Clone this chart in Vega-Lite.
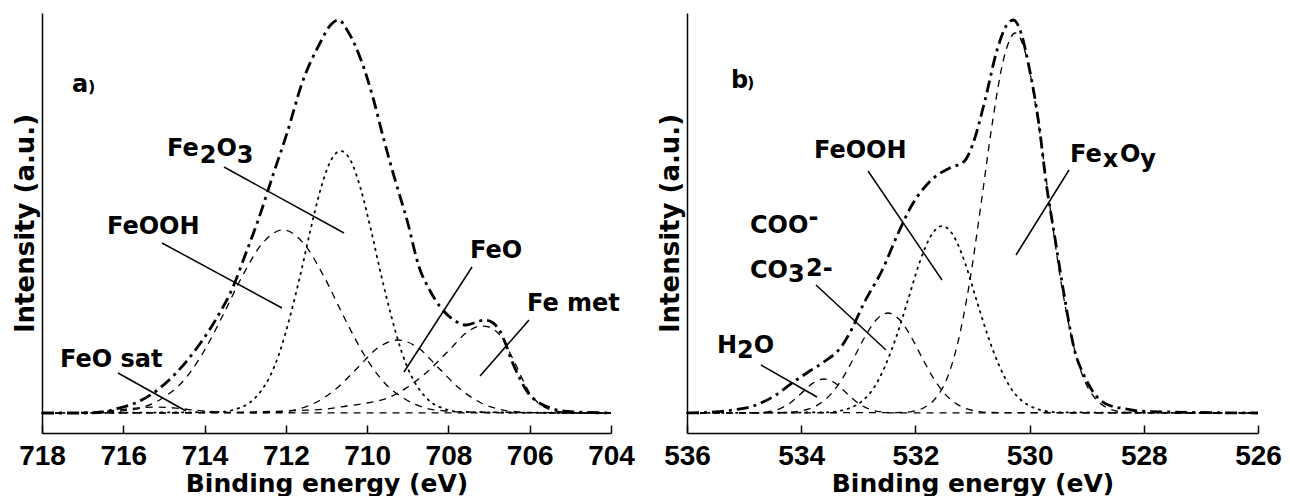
{
  "$schema": "https://vega.github.io/schema/vega-lite/v6.json",
  "autosize": {"type": "pad"},
  "padding": {"left": 12, "top": 13, "right": 0, "bottom": 0},
  "background": "white",
  "spacing": 76,
  "bounds": "flush",
  "config": {
    "view": {"stroke": null},
    "axis": {"grid": false, "domainColor": "black", "domainWidth": 1.5, "tickColor": "black", "tickWidth": 1.5, "labelColor": "black", "titleColor": "black"},
    "axisX": {"labelFont": "Liberation Sans", "labelFontWeight": "bold", "labelFontSize": 28, "tickSize": -8, "labelPadding": 17, "labelFlush": false, "titleFont": "DejaVu Sans", "titleFontWeight": "bold", "titleFontSize": 25, "titlePadding": 1},
    "axisY": {"labels": false, "ticks": false, "titleFont": "DejaVu Sans", "titleFontWeight": "bold", "titleFontSize": 26, "titlePadding": 4}
  },
  "datasets": {
    "a_curves": [
      {"s":"env","E":718,"I":0},{"s":"env","E":717,"I":0},{"s":"env","E":716.5,"I":1},{"s":"env","E":716.2,"I":4},{"s":"env","E":715.7,"I":10},{"s":"env","E":715.26,"I":20},{"s":"env","E":714.7,"I":40},{"s":"env","E":714.1,"I":70},{"s":"env","E":713.7,"I":95},{"s":"env","E":713.29,"I":127},{"s":"env","E":713.0,"I":158},{"s":"env","E":712.68,"I":193},{"s":"env","E":712.3,"I":240},{"s":"env","E":711.97,"I":280},{"s":"env","E":711.6,"I":330},{"s":"env","E":711.16,"I":370},{"s":"env","E":710.9,"I":388},{"s":"env","E":710.71,"I":393},{"s":"env","E":710.45,"I":380},{"s":"env","E":710.15,"I":353},{"s":"env","E":709.84,"I":313},{"s":"env","E":709.6,"I":275},{"s":"env","E":709.34,"I":237},{"s":"env","E":709.0,"I":190},{"s":"env","E":708.73,"I":147},{"s":"env","E":708.45,"I":122},{"s":"env","E":708.22,"I":107},{"s":"env","E":707.9,"I":94},{"s":"env","E":707.56,"I":88},{"s":"env","E":707.3,"I":91},{"s":"env","E":707.11,"I":93},{"s":"env","E":706.9,"I":90},{"s":"env","E":706.75,"I":83},{"s":"env","E":706.6,"I":70},{"s":"env","E":706.45,"I":53},{"s":"env","E":706.25,"I":35},{"s":"env","E":706.04,"I":20},{"s":"env","E":705.8,"I":11},{"s":"env","E":705.49,"I":5},{"s":"env","E":705.2,"I":2},{"s":"env","E":704.8,"I":1},{"s":"env","E":704,"I":0},
      {"s":"FeOOH","E":718,"I":0},{"s":"FeOOH","E":716.57,"I":1},{"s":"FeOOH","E":716.07,"I":2},{"s":"FeOOH","E":715.57,"I":5},{"s":"FeOOH","E":715.07,"I":14},{"s":"FeOOH","E":714.57,"I":30},{"s":"FeOOH","E":714.07,"I":58},{"s":"FeOOH","E":713.57,"I":96},{"s":"FeOOH","E":713.07,"I":137},{"s":"FeOOH","E":712.57,"I":170},{"s":"FeOOH","E":712.07,"I":183},{"s":"FeOOH","E":711.57,"I":170},{"s":"FeOOH","E":711.07,"I":137},{"s":"FeOOH","E":710.57,"I":96},{"s":"FeOOH","E":710.07,"I":58},{"s":"FeOOH","E":709.57,"I":30},{"s":"FeOOH","E":709.07,"I":14},{"s":"FeOOH","E":708.57,"I":5},{"s":"FeOOH","E":708.07,"I":2},{"s":"FeOOH","E":707.57,"I":1},{"s":"FeOOH","E":704,"I":0},
      {"s":"Fe2O3","E":718,"I":0},{"s":"Fe2O3","E":713.65,"I":1},{"s":"Fe2O3","E":713.15,"I":5},{"s":"Fe2O3","E":712.9,"I":10},{"s":"Fe2O3","E":712.65,"I":20},{"s":"Fe2O3","E":712.4,"I":36},{"s":"Fe2O3","E":712.15,"I":61},{"s":"Fe2O3","E":711.9,"I":96},{"s":"Fe2O3","E":711.65,"I":137},{"s":"Fe2O3","E":711.4,"I":182},{"s":"Fe2O3","E":711.15,"I":223},{"s":"Fe2O3","E":710.9,"I":252},{"s":"Fe2O3","E":710.65,"I":262},{"s":"Fe2O3","E":710.4,"I":252},{"s":"Fe2O3","E":710.15,"I":223},{"s":"Fe2O3","E":709.9,"I":182},{"s":"Fe2O3","E":709.65,"I":137},{"s":"Fe2O3","E":709.4,"I":96},{"s":"Fe2O3","E":709.15,"I":61},{"s":"Fe2O3","E":708.9,"I":36},{"s":"Fe2O3","E":708.65,"I":20},{"s":"Fe2O3","E":708.4,"I":10},{"s":"Fe2O3","E":708.15,"I":5},{"s":"Fe2O3","E":707.65,"I":1},{"s":"Fe2O3","E":704,"I":0},
      {"s":"FeO","E":718,"I":0},{"s":"FeO","E":712.74,"I":0.2},{"s":"FeO","E":712.24,"I":1},{"s":"FeO","E":711.74,"I":3.6},{"s":"FeO","E":711.24,"I":11},{"s":"FeO","E":710.74,"I":25},{"s":"FeO","E":710.24,"I":45},{"s":"FeO","E":709.74,"I":65},{"s":"FeO","E":709.24,"I":73},{"s":"FeO","E":708.74,"I":65},{"s":"FeO","E":708.24,"I":45},{"s":"FeO","E":707.74,"I":25},{"s":"FeO","E":707.24,"I":11},{"s":"FeO","E":706.74,"I":3.6},{"s":"FeO","E":706.24,"I":1},{"s":"FeO","E":705.74,"I":0.2},{"s":"FeO","E":704,"I":0},
      {"s":"Femet","E":718,"I":0},{"s":"Femet","E":714,"I":0.3},{"s":"Femet","E":713,"I":1},{"s":"Femet","E":712,"I":2},{"s":"Femet","E":711,"I":4},{"s":"Femet","E":710.5,"I":7},{"s":"Femet","E":710,"I":10},{"s":"Femet","E":709.5,"I":15},{"s":"Femet","E":709,"I":26},{"s":"Femet","E":708.5,"I":42},{"s":"Femet","E":708,"I":62},{"s":"Femet","E":707.5,"I":82},{"s":"Femet","E":707.2,"I":87},{"s":"Femet","E":707,"I":86},{"s":"Femet","E":706.7,"I":76},{"s":"Femet","E":706.4,"I":53},{"s":"Femet","E":706.0,"I":20},{"s":"Femet","E":705.6,"I":5},{"s":"Femet","E":705.2,"I":1},{"s":"Femet","E":704.8,"I":0},{"s":"Femet","E":704,"I":0},
      {"s":"FeOsat","E":718,"I":0},{"s":"FeOsat","E":717.2,"I":0.3},{"s":"FeOsat","E":716.7,"I":1.1},{"s":"FeOsat","E":716.2,"I":2.7},{"s":"FeOsat","E":715.7,"I":4.9},{"s":"FeOsat","E":715.2,"I":6},{"s":"FeOsat","E":714.7,"I":4.9},{"s":"FeOsat","E":714.2,"I":2.7},{"s":"FeOsat","E":713.7,"I":1.1},{"s":"FeOsat","E":713.2,"I":0.3},{"s":"FeOsat","E":704,"I":0}
    ],
    "a_leaders": [
      {"E":713.522,"I":246,"E2":710.569,"I2":180},
      {"E":715.047,"I":170,"E2":712.094,"I2":105},
      {"E":707.419,"I":146,"E2":709.093,"I2":41},
      {"E":706.017,"I":93,"E2":707.222,"I2":37},
      {"E":716.13,"I":40,"E2":714.457,"I2":2}
    ],
    "a_text": [
      {"k":"m","t":"a","E":717.262,"I":321},
      {"k":"p","t":")","E":716.868,"I":321},
      {"k":"m","t":"Fe","E":714.924,"I":257},
      {"k":"m","t":"2","E":714.12,"I":250},
      {"k":"m","t":"O","E":713.709,"I":257},
      {"k":"m","t":"3","E":713.207,"I":250},
      {"k":"m","t":"FeOOH","E":716.401,"I":179},
      {"k":"m","t":"FeO","E":707.469,"I":155},
      {"k":"m","t":"Fe met","E":706.066,"I":102},
      {"k":"m","t":"FeO sat","E":717.557,"I":46}
    ],
    "b_curves": [
      {"s":"env","E":536,"I":0},{"s":"env","E":535.5,"I":1},{"s":"env","E":535.2,"I":3},{"s":"env","E":534.84,"I":7},{"s":"env","E":534.5,"I":16},{"s":"env","E":534.16,"I":30},{"s":"env","E":533.85,"I":42},{"s":"env","E":533.58,"I":52},{"s":"env","E":533.3,"I":66},{"s":"env","E":533.15,"I":80},{"s":"env","E":532.9,"I":110},{"s":"env","E":532.58,"I":143},{"s":"env","E":532.3,"I":180},{"s":"env","E":532.07,"I":207},{"s":"env","E":531.85,"I":225},{"s":"env","E":531.68,"I":235},{"s":"env","E":531.4,"I":245},{"s":"env","E":531.14,"I":252},{"s":"env","E":531.0,"I":268},{"s":"env","E":530.78,"I":313},{"s":"env","E":530.57,"I":363},{"s":"env","E":530.4,"I":388},{"s":"env","E":530.28,"I":393},{"s":"env","E":530.15,"I":380},{"s":"env","E":530.01,"I":346},{"s":"env","E":529.84,"I":290},{"s":"env","E":529.7,"I":226},{"s":"env","E":529.57,"I":180},{"s":"env","E":529.41,"I":123},{"s":"env","E":529.2,"I":60},{"s":"env","E":529.05,"I":38},{"s":"env","E":528.91,"I":23},{"s":"env","E":528.62,"I":8},{"s":"env","E":528.3,"I":4},{"s":"env","E":528.12,"I":2},{"s":"env","E":527.5,"I":1},{"s":"env","E":526,"I":0},
      {"s":"FexOy","E":536,"I":0},{"s":"FexOy","E":532.25,"I":0.5},{"s":"FexOy","E":532.05,"I":1.7},{"s":"FexOy","E":531.85,"I":5.3},{"s":"FexOy","E":531.65,"I":14.5},{"s":"FexOy","E":531.45,"I":34},{"s":"FexOy","E":531.25,"I":72},{"s":"FexOy","E":531.05,"I":131},{"s":"FexOy","E":530.85,"I":209},{"s":"FexOy","E":530.65,"I":291},{"s":"FexOy","E":530.45,"I":355},{"s":"FexOy","E":530.25,"I":380},{"s":"FexOy","E":530.05,"I":355},{"s":"FexOy","E":529.85,"I":291},{"s":"FexOy","E":529.65,"I":209},{"s":"FexOy","E":529.45,"I":131},{"s":"FexOy","E":529.25,"I":72},{"s":"FexOy","E":529.05,"I":34},{"s":"FexOy","E":528.85,"I":14.5},{"s":"FexOy","E":528.65,"I":5.3},{"s":"FexOy","E":528.45,"I":1.7},{"s":"FexOy","E":528.25,"I":0.5},{"s":"FexOy","E":526,"I":0},
      {"s":"FeOOH","E":536,"I":0},{"s":"FeOOH","E":533.53,"I":0.7},{"s":"FeOOH","E":533.33,"I":2.1},{"s":"FeOOH","E":533.13,"I":5.3},{"s":"FeOOH","E":532.93,"I":12},{"s":"FeOOH","E":532.73,"I":25},{"s":"FeOOH","E":532.53,"I":47},{"s":"FeOOH","E":532.33,"I":77},{"s":"FeOOH","E":532.13,"I":113},{"s":"FeOOH","E":531.93,"I":150},{"s":"FeOOH","E":531.73,"I":177},{"s":"FeOOH","E":531.53,"I":187},{"s":"FeOOH","E":531.33,"I":177},{"s":"FeOOH","E":531.13,"I":150},{"s":"FeOOH","E":530.93,"I":113},{"s":"FeOOH","E":530.73,"I":77},{"s":"FeOOH","E":530.53,"I":47},{"s":"FeOOH","E":530.33,"I":25},{"s":"FeOOH","E":530.13,"I":12},{"s":"FeOOH","E":529.93,"I":5.3},{"s":"FeOOH","E":529.73,"I":2.1},{"s":"FeOOH","E":529.53,"I":0.7},{"s":"FeOOH","E":526,"I":0},
      {"s":"COO","E":536,"I":0},{"s":"COO","E":534.28,"I":0.5},{"s":"COO","E":534.08,"I":1.4},{"s":"COO","E":533.88,"I":3.8},{"s":"COO","E":533.68,"I":9.1},{"s":"COO","E":533.48,"I":18.9},{"s":"COO","E":533.28,"I":34.4},{"s":"COO","E":533.08,"I":54.9},{"s":"COO","E":532.88,"I":76.6},{"s":"COO","E":532.68,"I":93.5},{"s":"COO","E":532.48,"I":100},{"s":"COO","E":532.28,"I":93.5},{"s":"COO","E":532.08,"I":76.6},{"s":"COO","E":531.88,"I":54.9},{"s":"COO","E":531.68,"I":34.4},{"s":"COO","E":531.48,"I":18.9},{"s":"COO","E":531.28,"I":9.1},{"s":"COO","E":531.08,"I":3.8},{"s":"COO","E":530.88,"I":1.4},{"s":"COO","E":530.68,"I":0.5},{"s":"COO","E":526,"I":0},
      {"s":"H2O","E":536,"I":0},{"s":"H2O","E":534.8,"I":0.2},{"s":"H2O","E":534.6,"I":1.1},{"s":"H2O","E":534.4,"I":3.7},{"s":"H2O","E":534.2,"I":9.8},{"s":"H2O","E":534.0,"I":19.6},{"s":"H2O","E":533.8,"I":29.6},{"s":"H2O","E":533.6,"I":34},{"s":"H2O","E":533.4,"I":29.6},{"s":"H2O","E":533.2,"I":19.6},{"s":"H2O","E":533.0,"I":9.8},{"s":"H2O","E":532.8,"I":3.7},{"s":"H2O","E":532.6,"I":1.1},{"s":"H2O","E":532.4,"I":0.2},{"s":"H2O","E":526,"I":0}
    ],
    "b_leaders": [
      {"E":532.83,"I":242,"E2":531.534,"I2":133},
      {"E":529.31,"I":243,"E2":530.238,"I2":158},
      {"E":533.741,"I":128,"E2":532.515,"I2":63},
      {"E":534.704,"I":48,"E2":533.723,"I2":16}
    ],
    "b_text": [
      {"k":"m","t":"b","E":535.229,"I":325},
      {"k":"p","t":")","E":534.949,"I":325},
      {"k":"m","t":"FeOOH","E":533.776,"I":255},
      {"k":"m","t":"Fe","E":529.293,"I":251},
      {"k":"m","t":"x","E":528.72,"I":246},
      {"k":"m","t":"O","E":528.419,"I":251},
      {"k":"m","t":"y","E":528.063,"I":246},
      {"k":"m","t":"COO","E":534.897,"I":180},
      {"k":"m","t":"-","E":533.874,"I":188},
      {"k":"m","t":"CO","E":534.897,"I":135},
      {"k":"m","t":"3","E":534.231,"I":131},
      {"k":"m","t":"2-","E":533.916,"I":137},
      {"k":"m","t":"H","E":535.475,"I":60},
      {"k":"m","t":"2","E":535.124,"I":55},
      {"k":"m","t":"O","E":534.83,"I":60}
    ]
  },
  "hconcat": [
    {
      "width": 569,
      "height": 420,
      "encoding": {
        "x": {"field": "E", "type": "quantitative", "scale": {"domain": [704, 718], "reverse": true, "nice": false, "zero": false}, "axis": {"values": [718, 716, 714, 712, 710, 708, 706, 704], "format": "d", "title": "Binding energy (eV)"}},
        "y": {"field": "I", "type": "quantitative", "scale": {"domain": [-20, 400], "nice": false, "zero": false}, "axis": {"title": "Intensity (a.u.)"}}
      },
      "layer": [
        {"data": {"name": "a_curves"}, "transform": [{"filter": {"field": "s", "oneOf": ["FeOOH", "FeO", "Femet", "FeOsat"]}}], "mark": {"type": "line", "color": "black", "strokeWidth": 1.3, "strokeDash": [7, 6], "interpolate": "monotone"}, "encoding": {"detail": {"field": "s"}}},
        {"data": {"name": "a_curves"}, "transform": [{"filter": {"field": "s", "equal": "Fe2O3"}}], "mark": {"type": "line", "color": "black", "strokeWidth": 1.8, "strokeDash": [1.5, 5.5], "strokeCap": "round", "interpolate": "monotone"}, "encoding": {}},
        {"data": {"name": "a_curves"}, "transform": [{"filter": {"field": "s", "equal": "env"}}], "mark": {"type": "line", "color": "black", "strokeWidth": 2.8, "strokeDash": [12, 5, 3, 5], "interpolate": "monotone"}, "encoding": {}},
        {"data": {"name": "a_leaders"}, "mark": {"type": "rule", "color": "black", "strokeWidth": 1.5}, "encoding": {"x2": {"field": "E2"}, "y2": {"field": "I2"}}},
        {"data": {"name": "a_text"}, "transform": [{"filter": {"field": "k", "equal": "m"}}], "mark": {"type": "text", "align": "left", "baseline": "alphabetic", "font": "DejaVu Sans", "fontWeight": "bold", "fontSize": 24, "color": "black"}, "encoding": {"text": {"field": "t"}}},
        {"data": {"name": "a_text"}, "transform": [{"filter": {"field": "k", "equal": "p"}}], "mark": {"type": "text", "align": "left", "baseline": "alphabetic", "font": "DejaVu Sans", "fontWeight": "bold", "fontSize": 16, "color": "black"}, "encoding": {"text": {"field": "t"}}}
      ]
    },
    {
      "width": 571,
      "height": 420,
      "encoding": {
        "x": {"field": "E", "type": "quantitative", "scale": {"domain": [526, 536], "reverse": true, "nice": false, "zero": false}, "axis": {"values": [536, 534, 532, 530, 528, 526], "format": "d", "title": "Binding energy (eV)"}},
        "y": {"field": "I", "type": "quantitative", "scale": {"domain": [-20, 400], "nice": false, "zero": false}, "axis": {"title": "Intensity (a.u.)"}}
      },
      "layer": [
        {"data": {"name": "b_curves"}, "transform": [{"filter": {"field": "s", "oneOf": ["FexOy", "COO", "H2O"]}}], "mark": {"type": "line", "color": "black", "strokeWidth": 1.3, "strokeDash": [7, 6], "interpolate": "monotone"}, "encoding": {"detail": {"field": "s"}}},
        {"data": {"name": "b_curves"}, "transform": [{"filter": {"field": "s", "equal": "FeOOH"}}], "mark": {"type": "line", "color": "black", "strokeWidth": 1.8, "strokeDash": [1.5, 5.5], "strokeCap": "round", "interpolate": "monotone"}, "encoding": {}},
        {"data": {"name": "b_curves"}, "transform": [{"filter": {"field": "s", "equal": "env"}}], "mark": {"type": "line", "color": "black", "strokeWidth": 2.8, "strokeDash": [12, 5, 3, 5], "interpolate": "monotone"}, "encoding": {}},
        {"data": {"name": "b_leaders"}, "mark": {"type": "rule", "color": "black", "strokeWidth": 1.5}, "encoding": {"x2": {"field": "E2"}, "y2": {"field": "I2"}}},
        {"data": {"name": "b_text"}, "transform": [{"filter": {"field": "k", "equal": "m"}}], "mark": {"type": "text", "align": "left", "baseline": "alphabetic", "font": "DejaVu Sans", "fontWeight": "bold", "fontSize": 24, "color": "black"}, "encoding": {"text": {"field": "t"}}},
        {"data": {"name": "b_text"}, "transform": [{"filter": {"field": "k", "equal": "p"}}], "mark": {"type": "text", "align": "left", "baseline": "alphabetic", "font": "DejaVu Sans", "fontWeight": "bold", "fontSize": 16, "color": "black"}, "encoding": {"text": {"field": "t"}}}
      ]
    }
  ]
}
